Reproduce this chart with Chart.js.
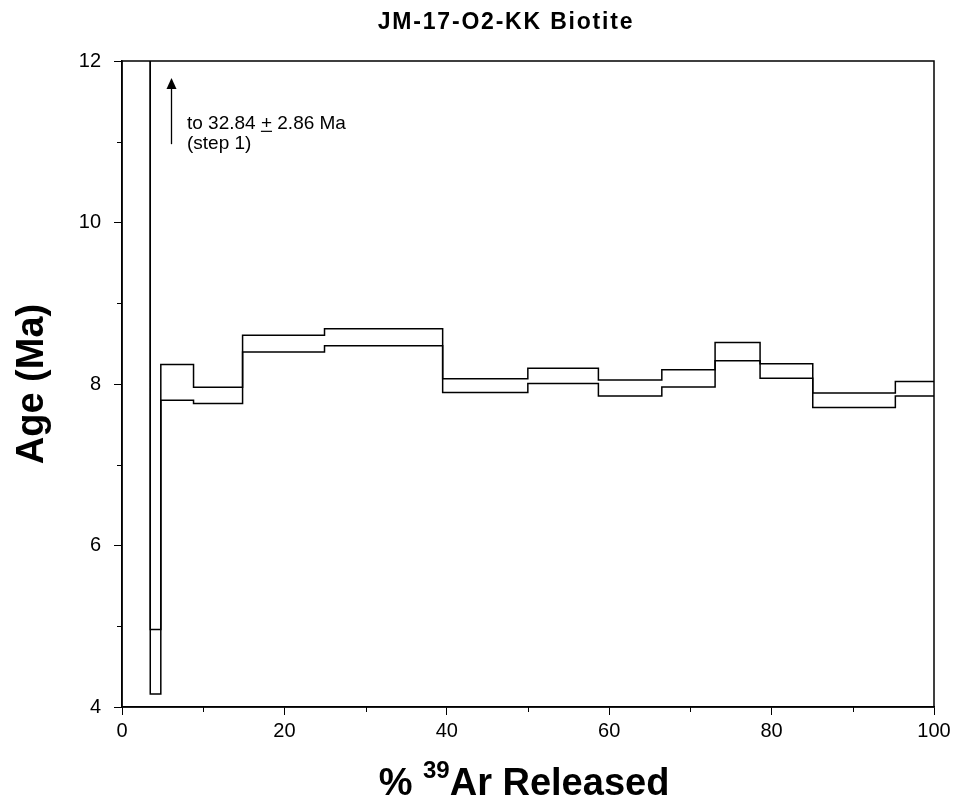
<!DOCTYPE html>
<html>
<head>
<meta charset="utf-8">
<script src="https://cdn.jsdelivr.net/npm/chart.js@4"></script>
<style>
html, body { margin: 0; padding: 0; background: #fff; }
#wrap { width: 956px; height: 802px; }
</style>
</head>
<body>
<div id="wrap"><canvas id="spectrum"></canvas></div>
<script>
// step boundaries (cumulative % 39Ar), apparent ages and errors (Ma)
const stepEdges = [0, 3.48, 4.78, 8.81, 14.85, 24.94, 39.49, 49.98, 58.67, 66.48, 73.04, 78.58, 85.07, 95.24, 100];
const stepAges = [32.84, 4.56, 8.02, 7.86, 8.50, 8.58, 7.98, 8.10, 7.95, 8.07, 8.40, 8.16, 7.80, 7.94];
const stepErrors = [2.86, 0.40, 0.22, 0.10, 0.105, 0.105, 0.085, 0.095, 0.10, 0.107, 0.113, 0.09, 0.09, 0.09];
const xTicks = [0, 20, 40, 60, 80, 100];
const xMinorTicks = [10, 30, 50, 70, 90];
const yTicks = [4, 6, 8, 10, 12];
const yMinorTicks = [5, 7, 9, 11];

const FONT = '"Liberation Sans", Arial, sans-serif';

function stepLine(sign) {
    const pts = stepAges.map((a, i) => ({ x: stepEdges[i], y: a + sign * stepErrors[i] }));
    const last = stepAges.length - 1;
    pts.push({ x: stepEdges[last + 1], y: stepAges[last] + sign * stepErrors[last] });
    return pts;
}

const lineStyle = {
    borderColor: '#000',
    borderWidth: 1.5,
    pointRadius: 0,
    stepped: 'before',
    fill: false
};

// frame, minor ticks, titles and the step-1 note
const extras = {
    id: 'extras',
    afterDraw(chart) {
        const ctx = chart.ctx;
        const a = chart.chartArea;
        const xs = chart.scales.x;
        const ys = chart.scales.y;
        ctx.save();
        ctx.strokeStyle = '#000';
        ctx.fillStyle = '#000';

        ctx.lineWidth = 1.5;
        ctx.strokeRect(a.left, a.top, a.right - a.left, a.bottom - a.top);

        ctx.lineWidth = 1;
        ctx.beginPath();
        xMinorTicks.forEach(v => {
            const px = Math.round(xs.getPixelForValue(v)) + 0.5;
            ctx.moveTo(px, a.bottom);
            ctx.lineTo(px, a.bottom + 5);
        });
        yMinorTicks.forEach(v => {
            const py = Math.round(ys.getPixelForValue(v)) + 0.5;
            ctx.moveTo(a.left, py);
            ctx.lineTo(a.left - 5, py);
        });
        ctx.stroke();

        // chart title
        ctx.font = 'bold 23px ' + FONT;
        ctx.textAlign = 'center';
        ctx.textBaseline = 'alphabetic';
        if ('letterSpacing' in ctx) ctx.letterSpacing = '1.8px';
        ctx.fillText('JM-17-O2-KK Biotite', 506, 29);
        if ('letterSpacing' in ctx) ctx.letterSpacing = '0px';

        // x axis title with superscript
        ctx.textAlign = 'left';
        const big = 'bold 38px ' + FONT;
        const small = 'bold 24px ' + FONT;
        ctx.font = big;
        const w1 = ctx.measureText('% ').width;
        const w3 = ctx.measureText('Ar Released').width;
        ctx.font = small;
        const w2 = ctx.measureText('39').width;
        let tx = 524 - (w1 + w2 + w3) / 2;
        ctx.font = big;
        ctx.fillText('% ', tx, 795);
        tx += w1;
        ctx.font = small;
        ctx.fillText('39', tx, 778);
        tx += w2;
        ctx.font = big;
        ctx.fillText('Ar Released', tx, 795);

        // arrow pointing to off-scale step 1
        const ax = Math.round(xs.getPixelForValue(6)) + 0.5;
        const ay0 = ys.getPixelForValue(10.97);
        const ay1 = ys.getPixelForValue(11.79);
        ctx.lineWidth = 1.3;
        ctx.beginPath();
        ctx.moveTo(ax, ay0);
        ctx.lineTo(ax, ay1 + 8);
        ctx.stroke();
        ctx.beginPath();
        ctx.moveTo(ax, ay1);
        ctx.lineTo(ax - 5, ay1 + 11);
        ctx.lineTo(ax + 5, ay1 + 11);
        ctx.closePath();
        ctx.fill();

        // note text
        const nx = xs.getPixelForValue(8);
        const ny = ys.getPixelForValue(11.16);
        ctx.font = '19px ' + FONT;
        const pre = 'to ' + stepAges[0].toFixed(2) + ' ';
        const note = pre + '+ ' + stepErrors[0].toFixed(2) + ' Ma';
        ctx.fillText(note, nx, ny);
        const px0 = nx + ctx.measureText(pre).width;
        const pw = ctx.measureText('+').width;
        ctx.lineWidth = 1.2;
        ctx.beginPath();
        ctx.moveTo(px0, ny + 2.5);
        ctx.lineTo(px0 + pw, ny + 2.5);
        ctx.stroke();
        ctx.fillText('(step 1)', nx, ny + 20);

        ctx.restore();
    }
};

new Chart(document.getElementById('spectrum'), {
    type: 'line',
    data: {
        datasets: [
            Object.assign({ label: 'upper', data: stepLine(1) }, lineStyle),
            Object.assign({ label: 'lower', data: stepLine(-1) }, lineStyle)
        ]
    },
    options: {
        responsive: true,
        maintainAspectRatio: false,
        animation: false,
        layout: { padding: { top: 61, right: 22, left: 0, bottom: 0 } },
        plugins: {
            legend: { display: false },
            tooltip: { enabled: false },
            title: { display: false }
        },
        scales: {
            x: {
                type: 'linear',
                min: 0,
                max: 100,
                afterBuildTicks: s => { s.ticks = xTicks.map(v => ({ value: v })); },
                afterFit: s => { s.height = 95; },
                grid: { drawOnChartArea: false, drawTicks: true, tickLength: 8, tickColor: '#000', tickWidth: 1 },
                border: { display: true, color: '#000', width: 1.5 },
                ticks: { color: '#000', padding: 4, font: { family: FONT, size: 20 } }
            },
            y: {
                min: 4,
                max: 12,
                afterBuildTicks: s => { s.ticks = yTicks.map(v => ({ value: v })); },
                afterFit: s => { s.width = 122; },
                grid: { drawOnChartArea: false, drawTicks: true, tickLength: 8, tickColor: '#000', tickWidth: 1 },
                border: { display: true, color: '#000', width: 1.5 },
                ticks: { color: '#000', padding: 13, font: { family: FONT, size: 20 } },
                title: {
                    display: true,
                    text: 'Age (Ma)',
                    color: '#000',
                    font: { family: FONT, size: 38, weight: 'bold' },
                    padding: { top: 10, bottom: 0 }
                }
            }
        }
    },
    plugins: [extras]
});
</script>
</body>
</html>
